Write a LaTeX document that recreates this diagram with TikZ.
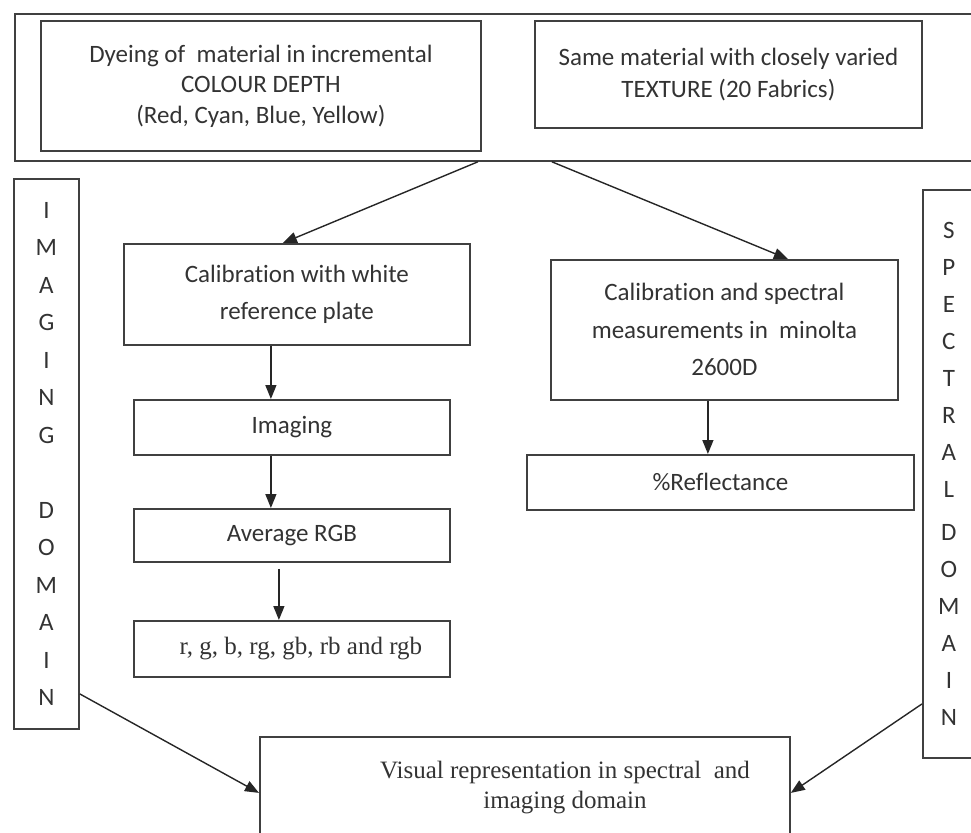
\documentclass[tikz,border=0pt]{standalone}
\usepackage{fontspec}
\setmainfont{Carlito}[Ligatures=NoCommon]
\newfontfamily\timesfont{Liberation Serif}
\usetikzlibrary{arrows.meta}

\begin{document}
\begin{tikzpicture}[
  x=1pt, y=-1pt,
  font=\fontsize{25}{37.5}\selectfont,
  >={Triangle[length=14pt,width=11pt]},
  box/.style={draw=black!75,line width=1.8pt,anchor=north west,inner sep=0pt,align=center,text=black!80},
  vert/.style={box,font=\fontsize{25}{37.5}\selectfont},
  serif/.style={font=\timesfont\fontsize{25}{30}\selectfont},
  link/.style={->,line width=1.4pt,draw=black!85},
]
\useasboundingbox (0,0) rectangle (971,832);
\clip (0,0) rectangle (971,832);
% top band with the two sample sets
\node[box,minimum width=966pt,minimum height=147pt] (band) at (14,13) {};
\node[box,minimum width=440pt,minimum height=130pt,font=\fontsize{25}{30.5}\selectfont] (dye) at (40,20)
  {Dyeing of~ material in incremental\\COLOUR DEPTH\\(Red, Cyan, Blue, Yellow)};
\node[box,minimum width=387pt,minimum height=107pt,font=\fontsize{25}{32}\selectfont] (texture) at (534,20)
  {Same material with closely varied\\TEXTURE (20 Fabrics)};
% side labels
\node[vert,minimum width=65pt,minimum height=550pt] (imgdom) at (13,178)
  {I\\M\\A\\G\\I\\N\\G\\[37.5pt]D\\O\\M\\A\\I\\N};
\node[vert,minimum width=52pt,minimum height=568pt,font=\fontsize{25}{37}\selectfont] (specdom) at (922,189)
  {S\\P\\E\\C\\T\\R\\A\\L\\[6pt]D\\O\\M\\A\\I\\N};
% imaging branch
\node[box,minimum width=346pt,minimum height=101pt] (calwhite) at (123,243)
  {Calibration with white\\reference plate};
\node[box,minimum width=316pt,minimum height=55pt] (imaging) at (133,399) {Imaging};
\node[box,minimum width=316pt,minimum height=53pt] (avgrgb) at (133,508) {Average RGB};
\node[box,minimum width=316pt,minimum height=56pt,serif] (rgbcomb) at (133,620)
  {\hspace*{18pt}r, g, b, rg, gb, rb and rgb};
% spectral branch
\node[box,minimum width=347pt,minimum height=140pt] (calspec) at (550,259)
  {Calibration and spectral\\measurements in~ minolta\\2600D};
\node[box,minimum width=387pt,minimum height=55pt] (reflect) at (526,454) {\%Reflectance};
% result
\node[box,minimum width=530pt,minimum height=124pt] (visual) at (259,736) {};
\node[serif,text=black!80,align=center] (visualtext) at (565,788)
  {Visual representation in spectral~ and\\imaging domain};
% connectors
\draw[link] ([xshift=-20pt]band.south) -- ([xshift=-14pt]calwhite.north);
\draw[link] ([xshift=54pt]band.south) -- ([xshift=63.5pt]calspec.north);
\draw[link] ([xshift=-26pt]calwhite.south) -- ([xshift=-21pt]imaging.north);
\draw[link] ([xshift=-21pt]imaging.south) -- ([xshift=-21pt]avgrgb.north);
\draw[link,shorten <=6pt] ([xshift=-13pt]avgrgb.south) -- ([xshift=-13pt]rgbcomb.north);
\draw[link] ([xshift=-16.5pt]calspec.south) -- ([xshift=-12.5pt]reflect.north);
\draw[link] ([yshift=-240pt]imgdom.east) -- ([yshift=6pt]visual.west);
\draw[link] ([yshift=-230pt]specdom.west) -- ([yshift=6pt]visual.east);
\end{tikzpicture}
\end{document}
